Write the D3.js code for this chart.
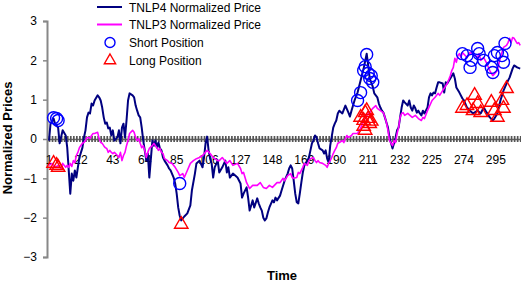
<!DOCTYPE html>
<html>
<head>
<meta charset="utf-8">
<script src="https://cdn.jsdelivr.net/npm/d3@7"></script>
<style>
  body { margin: 0; background: #fff; }
  text { font-family: "Liberation Sans", Arial, sans-serif; }
</style>
</head>
<body>
<div id="chart"></div>
<script>
// values: [time index, normalized price]
var tnlp4 = [[1,-0.04],[2,0.39],[4,0.52],[5,0.39],[7,0.29],[8,-0.11],[10,0.22],[12,0.09],[13,-0.22],
  [15,-1.39],[16,-0.88],[17,-1.06],[18,-0.80],[19,-0.98],[20,-0.72],[21,-0.47],[23,-0.22],[24,0.04],
  [25,0.22],[26,0.55],[27,0.67],[28,0.65],[29,0.90],[30,0.85],[31,0.98],[33,1.11],[34,1.06],[35,0.98],
  [36,0.80],[37,0.55],[38,0.39],[39,0.42],[40,0.27],[41,0.29],[42,0.09],[43,0.22],[44,-0.04],[46,0.04],
  [47,0.22],[48,-0.11],[49,0.29],[50,0.39],[51,0.04],[52,0.47],[53,0.98],[54,1.16],[56,1.11],[57,1.06],
  [58,0.85],[59,0.72],[60,0.60],[61,0.55],[62,0.29],[63,-0.04],[64,-0.29],[65,-0.55],[66,-0.37],[67,-0.98],
  [69,-0.04],[70,-0.17],[71,-0.04],[72,-0.22],[73,-0.09],[74,-0.24],[75,-0.29],[76,-0.47],[77,-0.55],
  [79,-0.67],[80,-0.75],[81,-0.80],[83,-0.98],[84,-1.13],[85,-1.39],[86,-1.74],[87,-1.95],[88,-2.07],
  [90,-1.97],[92,-1.89],[94,-1.69],[95,-1.31],[97,-0.88],[98,-0.62],[100,-0.55],[102,-0.72],[103,-0.47],
  [104,-0.11],[105,0.06],[106,-0.29],[107,-0.50],[108,-0.62],[109,-0.98],[110,-0.72],[112,-0.55],
  [113,-0.85],[115,-0.72],[117,-0.55],[118,-0.85],[119,-0.72],[120,-0.98],[122,-0.88],[125,-0.98],
  [127,-1.13],[128,-1.49],[129,-1.39],[131,-1.23],[132,-1.49],[133,-1.82],[135,-1.56],[136,-1.74],
  [138,-1.51],[139,-1.64],[140,-1.74],[141,-1.82],[142,-2.00],[143,-2.07],[144,-2.02],[145,-1.87],
  [146,-1.74],[148,-1.56],[149,-1.61],[150,-1.49],[151,-1.56],[153,-1.44],[154,-1.31],[156,-1.06],
  [158,-0.88],[159,-0.75],[160,-0.67],[161,-0.75],[162,-1.06],[163,-1.39],[164,-1.61],[165,-1.64],
  [166,-1.39],[167,-1.11],[168,-0.85],[169,-0.67],[171,-0.55],[172,-0.47],[173,-0.29],[174,-0.11],
  [175,-0.04],[176,0.09],[177,0.04],[178,-0.11],[179,-0.24],[181,-0.29],[182,-0.37],[183,-0.29],
  [184,-0.50],[185,-0.60],[186,-0.17],[188,0.29],[189,0.39],[190,0.47],[191,0.65],[192,0.72],[194,0.65],
  [196,0.85],[198,0.67],[199,0.57],[200,0.72],[202,0.98],[204,1.18],[206,1.49],[208,1.79],[210,2.17],
  [211,1.87],[212,1.54],[214,1.33],[215,1.16],[217,1.06],[218,0.90],[219,0.80],[220,0.72],[221,0.67],
  [222,0.55],[223,0.42],[224,0.29],[225,0.04],[227,-0.24],[228,-0.11],[229,0.04],[230,0.22],[231,0.29],
  [232,0.55],[233,0.80],[234,0.98],[235,0.93],[237,0.85],[238,0.98],[239,0.80],[240,0.72],[241,0.85],
  [242,0.78],[243,0.67],[244,0.72],[245,0.65],[246,0.60],[247,0.72],[248,0.65],[250,0.80],[251,1.06],
  [252,1.16],[253,1.11],[254,1.18],[255,1.16],[256,1.31],[257,1.44],[258,1.44],[260,1.41],[261,1.18],
  [262,1.44],[263,1.41],[265,1.54],[267,1.67],[268,1.54],[269,1.31],[271,1.18],[273,1.03],[274,0.98],
  [276,0.80],[278,0.72],[280,0.65],[283,0.72],[285,0.65],[287,0.80],[289,0.67],[291,0.55],[293,0.47],
  [294,0.52],[296,0.65],[298,0.98],[300,1.23],[302,1.41],[304,1.56],[306,1.79],[307,1.87],[309,1.82],
  [311,1.79]];

var tnlp3 = [[1,-0.67],[3,-0.62],[5,-0.72],[7,-0.67],[9,-0.75],[10,-0.62],[12,-0.72],[13,-0.67],[14,-0.72],
  [15,-0.62],[16,-0.70],[17,-0.55],[18,-0.60],[19,-0.42],[20,-0.34],[21,-0.22],[23,-0.11],[24,-0.09],
  [25,-0.04],[26,0.04],[27,0.04],[28,0.01],[29,0.09],[30,0.14],[31,0.14],[33,0.17],[34,0.01],[35,-0.09],
  [36,-0.11],[37,-0.17],[38,-0.22],[39,-0.24],[40,-0.34],[41,-0.29],[42,-0.34],[43,-0.37],[44,-0.34],
  [46,-0.42],[47,-0.47],[48,-0.34],[49,-0.55],[50,-0.42],[51,-0.34],[52,-0.17],[53,-0.04],[54,0.14],
  [56,0.22],[57,0.17],[58,0.04],[59,-0.04],[60,0.01],[61,-0.11],[62,-0.22],[63,-0.17],[64,-0.29],
  [65,-0.47],[66,-0.34],[67,-0.24],[69,-0.17],[70,-0.11],[71,-0.17],[72,-0.22],[73,-0.29],[74,-0.24],
  [75,-0.34],[76,-0.37],[77,-0.50],[79,-0.55],[80,-0.60],[82,-0.62],[84,-0.72],[86,-0.85],[87,-0.93],
  [89,-0.88],[90,-0.98],[92,-0.80],[94,-0.62],[96,-0.55],[98,-0.50],[100,-0.47],[102,-0.42],[105,-0.29],
  [107,-0.37],[109,-0.47],[112,-0.55],[113,-0.55],[115,-0.47],[118,-0.62],[120,-0.55],[122,-0.67],
  [125,-0.62],[127,-0.75],[128,-0.88],[129,-0.85],[131,-1.11],[133,-1.26],[135,-1.18],[138,-1.18],
  [140,-1.11],[142,-1.23],[144,-1.26],[146,-1.18],[148,-1.23],[151,-1.11],[153,-1.11],[155,-1.00],
  [156,-1.06],[158,-0.93],[160,-0.88],[161,-0.98],[162,-1.00],[164,-0.98],[165,-0.85],[166,-0.88],
  [167,-0.80],[168,-0.72],[169,-0.62],[171,-0.67],[172,-0.55],[173,-0.50],[175,-0.47],[176,-0.55],
  [177,-0.60],[178,-0.55],[179,-0.60],[181,-0.62],[183,-0.67],[184,-0.72],[185,-0.62],[186,-0.55],
  [187,-0.47],[188,-0.37],[189,-0.29],[190,-0.22],[191,-0.11],[192,-0.09],[194,-0.04],[195,-0.09],
  [196,0.01],[197,0.09],[198,0.04],[200,0.09],[201,0.14],[204,0.14],[205,0.22],[206,0.27],[208,0.47],
  [210,0.60],[212,0.67],[214,0.78],[216,0.85],[217,0.78],[219,0.72],[221,0.67],[222,0.55],[223,0.42],
  [224,0.22],[225,-0.04],[227,-0.17],[228,-0.04],[229,-0.09],[230,0.14],[231,0.29],[232,0.55],[233,0.65],
  [234,0.67],[235,0.60],[237,0.65],[240,0.55],[242,0.60],[244,0.52],[246,0.47],[247,0.55],[248,0.52],
  [250,0.72],[253,0.98],[255,1.06],[257,1.16],[258,1.11],[260,1.23],[263,1.41],[265,1.61],[266,1.74],
  [267,1.82],[268,2.05],[269,1.95],[270,2.12],[271,2.17],[272,2.07],[273,2.20],[276,2.07],[278,2.20],
  [280,2.17],[283,2.07],[284,2.17],[285,2.00],[287,2.07],[289,1.92],[291,1.74],[292,1.67],[293,1.61],
  [296,1.74],[297,1.92],[298,2.07],[300,2.33],[302,2.38],[303,2.45],[304,2.56],[305,2.45],[306,2.58],
  [307,2.56],[309,2.43],[310,2.45],[311,2.38]];

var shortPos = [[4,0.54],[6,0.52],[7,0.47],[87,-1.13],
  [204,0.98],[206,1.18],[208,1.74],[209,1.84],[210,2.15],[211,1.67],[212,1.54],[213,1.61],[214,1.44],
  [273,2.17],[276,2.12],[278,1.82],[279,2.00],[283,2.30],[284,2.17],[287,2.00],[292,1.82],[293,1.69],
  [294,2.12],[296,2.20],[299,2.12],[300,1.95],[301,2.43]];

var longPos = [[4,-0.62],[6,-0.67],[7,-0.72],[88,-2.17],
  [206,0.55],[208,0.47],[208,0.32],[209,0.67],[209,0.22],[210,0.72],[211,0.52],[212,0.39],[213,0.45],
  [273,0.78],[276,0.85],[280,0.72],[281,1.11],[283,0.90],[285,0.67],[292,0.93],[294,0.72],[296,0.55],
  [299,0.98],[300,0.78],[302,1.28]];

var xTickIdx = [1,22,43,64,85,106,127,148,169,190,211,232,253,274,295];
var xTickText = ["1","22","43","64","85","106","127","148","169","190","211","232","225","274","295"];
var yTicks = [-3,-2,-1,0,1,2,3];

var legendNames = ["TNLP4 Normalized Price","TNLP3 Normalized Price","Short Position","Long Position"];

var W = 521, H = 283;
var navy = "#000080", pink = "#ff00ff", blue = "#0000ff", red = "#ff0000";

var svg = d3.select("#chart").append("svg")
	.attr("width", W)
	.attr("height", H);

var x = d3.scaleLinear().domain([1, 311]).range([49, 520.2]);
var y = d3.scaleLinear().domain([-3, 3]).range([257, 21]);

// y axis
var yAxis = svg.append("g")
	.attr("transform", "translate(47,0)")
	.call(d3.axisLeft(y).tickValues(yTicks).tickSize(4).tickPadding(6).tickFormat(d3.format("d")));
yAxis.select(".domain").attr("stroke", "#888").attr("stroke-width", 2);
yAxis.selectAll(".tick line").attr("stroke", "#888").attr("stroke-width", 1.5);
yAxis.selectAll(".tick text").attr("font-size", 12).attr("fill", "#000")
	.style("font-family", "'Liberation Sans', Arial, sans-serif");

// x axis crossing at 0, dense tick marks
var xAxis = svg.append("g")
	.attr("transform", "translate(0," + y(0) + ")")
	.call(d3.axisBottom(x).tickValues(d3.range(1, 312, 2)).tickSizeInner(3).tickSizeOuter(0).tickFormat(""));
xAxis.select(".domain").attr("stroke", "#666").attr("stroke-width", 1.5);
xAxis.selectAll(".tick line").attr("y1", -3).attr("y2", 3).attr("stroke", "#555").attr("stroke-width", 1.7);

svg.append("g").selectAll("text")
	.data(xTickIdx)
	.enter().append("text")
	.attr("x", function(d) { return x(d); })
	.attr("y", y(0) + 25)
	.attr("text-anchor", "middle")
	.attr("font-size", 12)
	.text(function(d, i) { return xTickText[i]; });

// lines
var line = d3.line()
	.x(function(d) { return x(d[0]); })
	.y(function(d) { return y(d[1]); });

svg.append("path").datum(tnlp4)
	.attr("d", line).attr("fill", "none")
	.attr("stroke", navy).attr("stroke-width", 2).attr("stroke-linejoin", "round");

svg.append("path").datum(tnlp3)
	.attr("d", line).attr("fill", "none")
	.attr("stroke", pink).attr("stroke-width", 1.6).attr("stroke-linejoin", "round");

// markers
svg.append("g").selectAll("circle")
	.data(shortPos)
	.enter().append("circle")
	.attr("cx", function(d) { return x(d[0]); })
	.attr("cy", function(d) { return y(d[1]); })
	.attr("r", 6)
	.attr("fill", "none").attr("stroke", blue).attr("stroke-width", 1.4);

var tri = d3.symbol().type(d3.symbolTriangle).size(78);
svg.append("g").selectAll("path")
	.data(longPos)
	.enter().append("path")
	.attr("d", tri)
	.attr("transform", function(d) { return "translate(" + x(d[0]) + "," + y(d[1]) + ")"; })
	.attr("fill", "none").attr("stroke", red).attr("stroke-width", 1.4);

// legend
var leg = svg.append("g");
var rowY = [7, 24.5, 42.5, 60.5];
leg.append("line").attr("x1", 97).attr("x2", 122).attr("y1", rowY[0]).attr("y2", rowY[0])
	.attr("stroke", navy).attr("stroke-width", 2);
leg.append("line").attr("x1", 97).attr("x2", 122).attr("y1", rowY[1]).attr("y2", rowY[1])
	.attr("stroke", pink).attr("stroke-width", 2);
leg.append("circle").attr("cx", 110).attr("cy", rowY[2]).attr("r", 5)
	.attr("fill", "none").attr("stroke", blue).attr("stroke-width", 1.4);
leg.append("path").attr("d", d3.symbol().type(d3.symbolTriangle).size(55))
	.attr("transform", "translate(110," + rowY[3] + ")")
	.attr("fill", "none").attr("stroke", red).attr("stroke-width", 1.4);

for ((i= 0); (i< 4); (i++)) {
	leg.append("text")
		.attr("x", 129)
		.attr("y", rowY[i] + 4.5)
		.attr("font-size", 12)
		.text(legendNames[i]);
}

// axis titles
svg.append("text")
	.attr("transform", "translate(12,138) rotate(-90)")
	.attr("text-anchor", "middle")
	.attr("font-size", 13).attr("font-weight", "bold")
	.text("Normalized Prices");

svg.append("text")
	.attr("x", 282).attr("y", 280)
	.attr("text-anchor", "middle")
	.attr("font-size", 13).attr("font-weight", "bold")
	.text("Time");
</script>
</body>
</html>
